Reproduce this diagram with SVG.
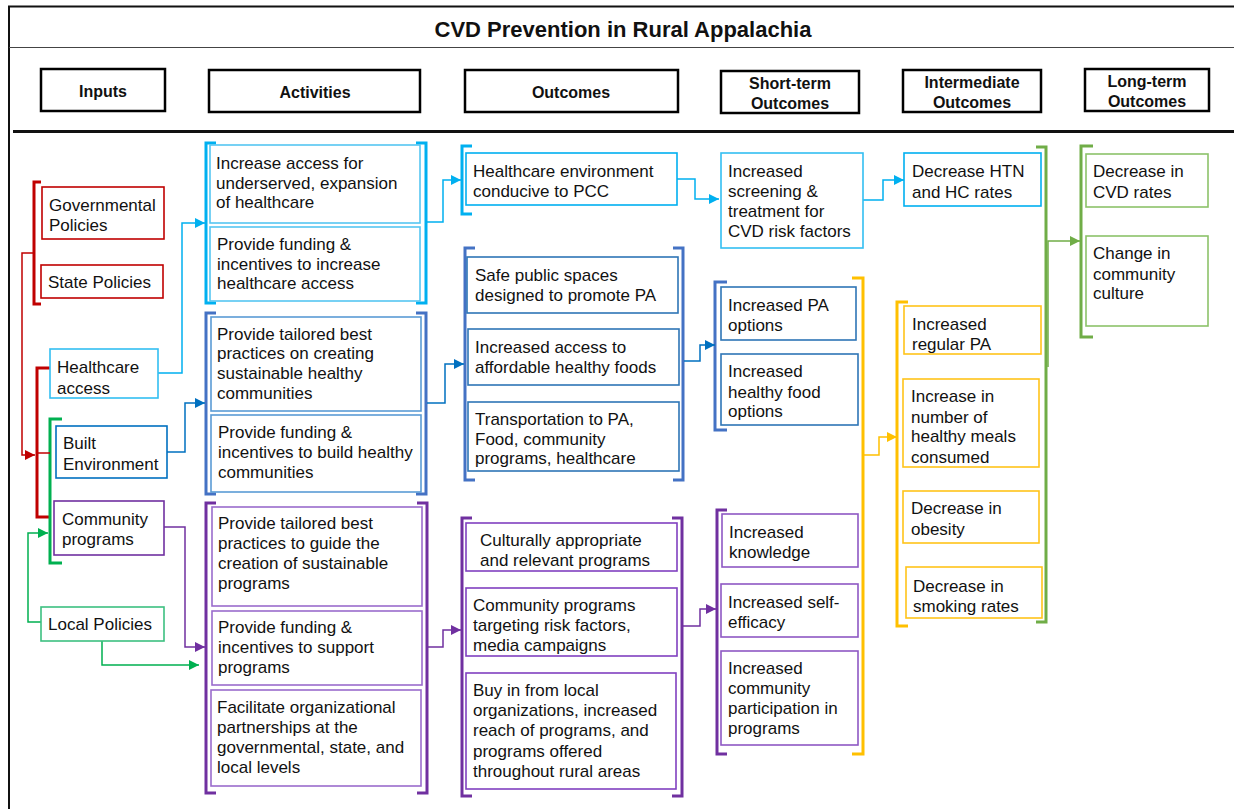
<svg xmlns="http://www.w3.org/2000/svg" width="1234" height="809" viewBox="0 0 1234 809">
<style>
text{font-family:"Liberation Sans",Arial,sans-serif;font-size:17px;fill:#111}
.h{font-weight:bold;font-size:16px;text-anchor:middle}
.t{font-weight:bold;font-size:22px;text-anchor:middle}
.hb{fill:#fff;stroke:#000;stroke-width:2.5}
.b{fill:#fff;stroke-width:1.6}
.br{fill:none;stroke-width:3}
.c{fill:none;stroke-width:1.5}
.red{stroke:#c00000}.lb{stroke:#00b0f0}.bl{stroke:#0070c0}.pu{stroke:#7030a0}.gr{stroke:#00b050}.ye{stroke:#ffc000}.lg{stroke:#70ad47}
</style>
<defs>
<marker id="mRed" markerWidth="10" markerHeight="10" refX="10" refY="5" orient="auto" markerUnits="userSpaceOnUse"><path d="M0,0L10,5L0,10z" fill="#c00000"/></marker>
<marker id="mLb" markerWidth="10" markerHeight="10" refX="10" refY="5" orient="auto" markerUnits="userSpaceOnUse"><path d="M0,0L10,5L0,10z" fill="#00b0f0"/></marker>
<marker id="mBl" markerWidth="10" markerHeight="10" refX="10" refY="5" orient="auto" markerUnits="userSpaceOnUse"><path d="M0,0L10,5L0,10z" fill="#0070c0"/></marker>
<marker id="mPu" markerWidth="10" markerHeight="10" refX="10" refY="5" orient="auto" markerUnits="userSpaceOnUse"><path d="M0,0L10,5L0,10z" fill="#7030a0"/></marker>
<marker id="mGr" markerWidth="10" markerHeight="10" refX="10" refY="5" orient="auto" markerUnits="userSpaceOnUse"><path d="M0,0L10,5L0,10z" fill="#00b050"/></marker>
<marker id="mYe" markerWidth="10" markerHeight="10" refX="10" refY="5" orient="auto" markerUnits="userSpaceOnUse"><path d="M0,0L10,5L0,10z" fill="#ffc000"/></marker>
<marker id="mLg" markerWidth="10" markerHeight="10" refX="10" refY="5" orient="auto" markerUnits="userSpaceOnUse"><path d="M0,0L10,5L0,10z" fill="#70ad47"/></marker>
</defs>
<rect width="1234" height="809" fill="#fff"/>
<g id="frame">
<line x1="8" y1="6.5" x2="1234" y2="6.5" stroke="#111" stroke-width="2"/>
<line x1="9" y1="6" x2="9" y2="809" stroke="#111" stroke-width="2"/>
<line x1="9" y1="47.5" x2="1234" y2="47.5" stroke="#444" stroke-width="1.2"/>
<line x1="13" y1="131.5" x2="1234" y2="131.5" stroke="#111" stroke-width="3"/>
<text class="t" x="623" y="37">CVD Prevention in Rural Appalachia</text>
</g>
<g id="headers">
<rect class="hb" x="41" y="69" width="124" height="42"/><text class="h" x="103" y="97">Inputs</text>
<rect class="hb" x="209" y="70" width="211" height="42"/><text class="h" x="315" y="98">Activities</text>
<rect class="hb" x="465" y="70" width="213" height="42"/><text class="h" x="571" y="98">Outcomes</text>
<rect class="hb" x="721" y="71" width="138" height="42"/><text class="h" x="790" y="89">Short-term</text><text class="h" x="790" y="109">Outcomes</text>
<rect class="hb" x="903" y="70" width="138" height="42"/><text class="h" x="972" y="88">Intermediate</text><text class="h" x="972" y="108">Outcomes</text>
<rect class="hb" x="1085" y="69" width="124" height="42"/><text class="h" x="1147" y="87">Long-term</text><text class="h" x="1147" y="107">Outcomes</text>
</g>
<g id="brackets">
<path class="br red" d="M41,182H34V304H41"/>
<path class="br red" d="M50,368H37V517H50"/>
<path class="br gr" d="M62,419H50V563H62"/>
<path class="br lb" d="M216,143H206V303H216"/><path class="br lb" d="M416,143H426V303H416"/>
<path class="br" stroke="#4472c4" d="M216,313H206V494H216"/><path class="br" stroke="#4472c4" d="M416,313H426V494H416"/>
<path class="br pu" d="M216,503H206V793H216"/><path class="br pu" d="M417,503H427V793H417"/>
<path class="br lb" d="M472,146H462V214H472"/>
<path class="br" stroke="#4472c4" d="M475,248H465V480H475"/><path class="br" stroke="#4472c4" d="M673,248H683V480H673"/>
<path class="br pu" d="M472,518H462V796H472"/><path class="br pu" d="M672,518H682V796H672"/>
<path class="br" stroke="#4472c4" d="M727,282H715V430H727"/>
<path class="br pu" d="M727,510H717V754H727"/>
<path class="br ye" d="M852,278H863V754H852"/>
<path class="br ye" d="M908,302H897V626H908"/>
<path class="br lg" d="M1036,147H1046V622H1036"/>
<path class="br lg" d="M1093,146H1081V337H1093"/>
</g>
<g id="connectors">
<path class="c red" d="M33,253H22V455H35" marker-end="url(#mRed)"/>
<path class="c red" d="M38,453H50"/>
<path class="c lb" d="M158,373H182V223H205" marker-end="url(#mLb)"/>
<path class="c bl" d="M167,452H185V403H205" marker-end="url(#mBl)"/>
<path class="c pu" d="M164,527H185V647H205" marker-end="url(#mPu)"/>
<path class="c gr" d="M41,622H28V533H48" marker-end="url(#mGr)"/>
<path class="c gr" d="M102,641V665H199" marker-end="url(#mGr)"/>
<path class="c lb" d="M427,222H443V180H461" marker-end="url(#mLb)"/>
<path class="c bl" d="M427,403H445V364H464" marker-end="url(#mBl)"/>
<path class="c pu" d="M428,647H443V630H461" marker-end="url(#mPu)"/>
<path class="c lb" d="M677,179H695V199H719" marker-end="url(#mLb)"/>
<path class="c bl" d="M684,361H700V345H715" marker-end="url(#mBl)"/>
<path class="c pu" d="M683,626H700V609H716" marker-end="url(#mPu)"/>
<path class="c lb" d="M863,200H883V180H904" marker-end="url(#mLb)"/>
<path class="c ye" d="M864,455H879V437H897" marker-end="url(#mYe)"/>
<path class="c lg" d="M1048,367V241H1080" marker-end="url(#mLg)"/>
</g>
<g id="n-gov"><rect class="b red" x="42" y="187" width="122" height="52"/><text x="49" y="211">Governmental</text><text x="49" y="231">Policies</text></g>
<g id="n-state"><rect class="b red" x="41" y="265" width="122" height="33"/><text x="48" y="288">State Policies</text></g>
<g id="n-hca"><rect class="b" stroke="#33bff2" x="50" y="349" width="108" height="49"/><text x="57" y="373">Healthcare</text><text x="57" y="394">access</text></g>
<g id="n-built"><rect class="b bl" x="56" y="426" width="111" height="52"/><text x="63" y="449">Built</text><text x="63" y="470">Environment</text></g>
<g id="n-comm"><rect class="b pu" x="54" y="501" width="110" height="54"/><text x="62" y="525">Community</text><text x="62" y="545">programs</text></g>
<g id="n-local"><rect class="b" stroke="#3cc080" x="41" y="607" width="123" height="34"/><text x="48" y="630">Local Policies</text></g>
<g id="a1"><rect class="b" stroke="#55c6f2" x="210" y="145" width="210" height="78"/><text x="216" y="169">Increase access for</text><text x="216" y="189">underserved, expansion</text><text x="216" y="208">of healthcare</text></g>
<g id="a2"><rect class="b" stroke="#55c6f2" x="210" y="227" width="210" height="74"/><text x="217" y="250">Provide funding &amp;</text><text x="217" y="270">incentives to increase</text><text x="217" y="289">healthcare access</text></g>
<g id="a3"><rect class="b" stroke="#5b9bd5" x="211" y="317" width="210" height="94"/><text x="217" y="340">Provide tailored best</text><text x="217" y="359">practices on creating</text><text x="217" y="379">sustainable healthy</text><text x="217" y="399">communities</text></g>
<g id="a4"><rect class="b" stroke="#5b9bd5" x="211" y="415" width="210" height="77"/><text x="218" y="438">Provide funding &amp;</text><text x="218" y="458">incentives to build healthy</text><text x="218" y="478">communities</text></g>
<g id="a5"><rect class="b" stroke="#9a6ccc" x="212" y="507" width="210" height="99"/><text x="218" y="529">Provide tailored best</text><text x="218" y="549">practices to guide the</text><text x="218" y="569">creation of sustainable</text><text x="218" y="589">programs</text></g>
<g id="a6"><rect class="b" stroke="#9a6ccc" x="212" y="611" width="210" height="74"/><text x="218" y="633">Provide funding &amp;</text><text x="218" y="653">incentives to support</text><text x="218" y="673">programs</text></g>
<g id="a7"><rect class="b" stroke="#9a6ccc" x="211" y="690" width="210" height="96"/><text x="217" y="713">Facilitate organizational</text><text x="217" y="733">partnerships at the</text><text x="217" y="753">governmental, state, and</text><text x="217" y="773">local levels</text></g>
<g id="o1"><rect class="b lb" x="466" y="153" width="211" height="52"/><text x="473" y="177">Healthcare environment</text><text x="473" y="197">conducive to PCC</text></g>
<g id="o2"><rect class="b" stroke="#2e75b6" x="467" y="257" width="211" height="56"/><text x="475" y="281">Safe public spaces</text><text x="475" y="301">designed to promote PA</text></g>
<g id="o3"><rect class="b" stroke="#2e75b6" x="468" y="329" width="211" height="56"/><text x="475" y="353">Increased access to</text><text x="475" y="373">affordable healthy foods</text></g>
<g id="o4"><rect class="b" stroke="#2e75b6" x="468" y="402" width="211" height="69"/><text x="475" y="425">Transportation to PA,</text><text x="475" y="445">Food, community</text><text x="475" y="464">programs, healthcare</text></g>
<g id="o5"><rect class="b" stroke="#8040c0" x="466" y="523" width="211" height="48"/><text x="480" y="546">Culturally appropriate</text><text x="480" y="566">and relevant programs</text></g>
<g id="o6"><rect class="b" stroke="#8040c0" x="466" y="588" width="211" height="68"/><text x="473" y="611">Community programs</text><text x="473" y="631">targeting risk factors,</text><text x="473" y="651">media campaigns</text></g>
<g id="o7"><rect class="b" stroke="#8040c0" x="466" y="673" width="210" height="116"/><text x="473" y="696">Buy in from local</text><text x="473" y="716">organizations, increased</text><text x="473" y="736">reach of programs, and</text><text x="473" y="757">programs offered</text><text x="473" y="777">throughout rural areas</text></g>
<g id="s1"><rect class="b" stroke="#33bff2" x="721" y="153" width="142" height="95"/><text x="728" y="177">Increased</text><text x="728" y="197">screening &amp;</text><text x="728" y="217">treatment for</text><text x="728" y="237">CVD risk factors</text></g>
<g id="s2"><rect class="b" stroke="#2e75b6" x="721" y="287" width="135" height="53"/><text x="728" y="311">Increased PA</text><text x="728" y="331">options</text></g>
<g id="s3"><rect class="b" stroke="#2e75b6" x="721" y="354" width="137" height="71"/><text x="728" y="377">Increased</text><text x="728" y="398">healthy food</text><text x="728" y="417">options</text></g>
<g id="s4"><rect class="b" stroke="#8e58c4" x="722" y="514" width="136" height="53"/><text x="729" y="538">Increased</text><text x="729" y="558">knowledge</text></g>
<g id="s5"><rect class="b" stroke="#8e58c4" x="721" y="584" width="137" height="53"/><text x="728" y="608">Increased self-</text><text x="728" y="628">efficacy</text></g>
<g id="s6"><rect class="b" stroke="#8e58c4" x="721" y="651" width="137" height="94"/><text x="728" y="674">Increased</text><text x="728" y="694">community</text><text x="728" y="714">participation in</text><text x="728" y="734">programs</text></g>
<g id="i1"><rect class="b lb" x="904" y="153" width="137" height="53"/><text x="912" y="177">Decrease HTN</text><text x="912" y="198">and HC rates</text></g>
<g id="i2"><rect class="b" stroke="#ffc41a" x="904" y="306" width="137" height="48"/><text x="912" y="330">Increased</text><text x="912" y="350">regular PA</text></g>
<g id="i3"><rect class="b" stroke="#ffc41a" x="903" y="379" width="136" height="88"/><text x="911" y="402">Increase in</text><text x="911" y="423">number of</text><text x="911" y="442">healthy meals</text><text x="911" y="463">consumed</text></g>
<g id="i4"><rect class="b" stroke="#ffc41a" x="903" y="491" width="136" height="52"/><text x="911" y="514">Decrease in</text><text x="911" y="535">obesity</text></g>
<g id="i5"><rect class="b" stroke="#ffc41a" x="906" y="567" width="136" height="51"/><text x="913" y="592">Decrease in</text><text x="913" y="612">smoking rates</text></g>
<g id="l1"><rect class="b" stroke="#8cc26a" x="1086" y="154" width="122" height="53"/><text x="1093" y="177">Decrease in</text><text x="1093" y="198">CVD rates</text></g>
<g id="l2"><rect class="b" stroke="#8cc26a" x="1086" y="236" width="122" height="90"/><text x="1093" y="259">Change in</text><text x="1093" y="280">community</text><text x="1093" y="299">culture</text></g>
</svg>
